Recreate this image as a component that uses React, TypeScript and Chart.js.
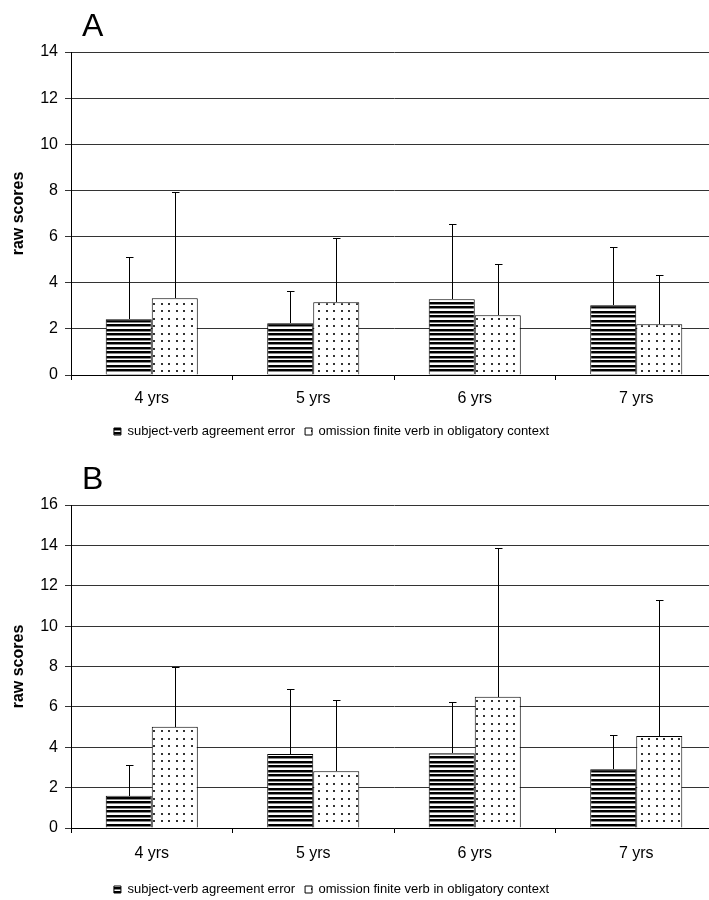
import React, { useEffect, useRef } from "react";
import { Chart, registerables } from "chart.js";

Chart.register(...registerables);

const categories = ["4 yrs", "5 yrs", "6 yrs", "7 yrs"];
const seriesNames = ["subject-verb agreement error", "omission finite verb in obligatory context"];

// Panel A
const aAgreement = [2.42, 2.24, 3.28, 3.02];
const aAgreementSD = [2.69, 1.42, 3.28, 2.53];
const aOmission = [3.33, 3.15, 2.59, 2.2];
const aOmissionSD = [4.6, 2.79, 2.21, 2.14];
const aYMax = 14;

// Panel B
const bAgreement = [1.6, 3.67, 3.7, 2.91];
const bAgreementSD = [1.51, 3.21, 2.55, 1.69];
const bOmission = [5.01, 2.81, 6.5, 4.56];
const bOmissionSD = [2.99, 3.52, 7.37, 6.74];
const bYMax = 16;

const FONT = "'Liberation Sans', Arial, sans-serif";

function makeStripePattern(): CanvasPattern | string {
  const c = document.createElement("canvas");
  c.width = 8;
  c.height = 9;
  const g = c.getContext("2d");
  if (!g) return "#000";
  g.fillStyle = "#fff";
  g.fillRect(0, 0, 8, 9);
  g.fillStyle = "#000";
  g.fillRect(0, 0, 8, 2);
  g.fillRect(0, 5, 8, 2);
  g.fillStyle = "#888";
  g.fillRect(0, 2, 8, 1);
  g.fillRect(0, 7, 8, 1);
  return g.createPattern(c, "repeat") || "#000";
}

function makeDotPattern(): CanvasPattern | string {
  const c = document.createElement("canvas");
  c.width = 15;
  c.height = 15;
  const g = c.getContext("2d");
  if (!g) return "#fff";
  g.fillStyle = "#fff";
  g.fillRect(0, 0, 15, 15);
  g.fillStyle = "#333";
  g.fillRect(3, 3, 2, 2);
  g.fillRect(11, 3, 2, 2);
  g.fillRect(3, 10, 2, 2);
  g.fillRect(11, 10, 2, 2);
  return g.createPattern(c, "repeat") || "#fff";
}

type PanelProps = {
  letter: string;
  agreement: number[];
  agreementSD: number[];
  omission: number[];
  omissionSD: number[];
  yMax: number;
  top: number;
  height: number;
  padTop: number;
  padBottom: number;
  xHeight: number;
  xPad: number;
};

const errorBarPlugin = {
  id: "errorBars",
  afterDatasetsDraw(chart: any) {
    const ctx = chart.ctx;
    const yScale = chart.scales.y;
    ctx.save();
    ctx.strokeStyle = "#000";
    ctx.lineWidth = 1;
    chart.data.datasets.forEach((ds: any, di: number) => {
      const meta = chart.getDatasetMeta(di);
      meta.data.forEach((bar: any, i: number) => {
        const v = ds.data[i];
        const sd = ds.errors[i];
        const x = Math.round(bar.x) + 0.5;
        const yTop = Math.round(yScale.getPixelForValue(v + sd)) + 0.5;
        const yBase = Math.round(bar.y);
        ctx.beginPath();
        ctx.moveTo(x, yBase);
        ctx.lineTo(x, yTop);
        ctx.moveTo(x - 3.5, yTop);
        ctx.lineTo(x + 4, yTop);
        ctx.stroke();
      });
    });
    ctx.restore();
  },
};

const letterPlugin = {
  id: "panelLetter",
  afterDraw(chart: any) {
    const opts = chart.options.plugins.panelLetter;
    if (!opts) return;
    const ctx = chart.ctx;
    ctx.save();
    ctx.fillStyle = "#000";
    ctx.font = `32px ${FONT}`;
    ctx.textBaseline = "alphabetic";
    ctx.textAlign = "left";
    ctx.fillText(opts.text, chart.chartArea.left + opts.dx, chart.chartArea.top + opts.dy);
    ctx.restore();
  },
};

const legendShiftPlugin = {
  id: "legendShift",
  afterLayout(chart: any) {
    const opts = chart.options.plugins.legendShift;
    if (!opts || !chart.legend) return;
    chart.legend.left = opts.left;
    chart.legend.right = opts.right;
  },
};

function Panel(p: PanelProps) {
  const ref = useRef<HTMLCanvasElement | null>(null);
  useEffect(() => {
    if (!ref.current) return;
    const stripe = makeStripePattern();
    const dots = makeDotPattern();
    const chart = new Chart(ref.current, {
      type: "bar",
      data: {
        labels: categories,
        datasets: [
          {
            label: seriesNames[0],
            data: p.agreement,
            errors: p.agreementSD,
            backgroundColor: stripe,
            borderColor: "#000",
            borderWidth: 1,
            categoryPercentage: 0.57,
            barPercentage: 1,
          } as any,
          {
            label: seriesNames[1],
            data: p.omission,
            errors: p.omissionSD,
            backgroundColor: dots,
            borderColor: "#000",
            borderWidth: 1,
            categoryPercentage: 0.57,
            barPercentage: 1,
          } as any,
        ],
      },
      options: {
        animation: false,
        responsive: false,
        maintainAspectRatio: false,
        layout: { padding: { top: p.padTop, bottom: p.padBottom, left: 0, right: 3 } },
        scales: {
          x: {
            grid: {
              display: true,
              drawOnChartArea: false,
              drawTicks: true,
              tickLength: 5,
              offset: true,
              color: "#000",
            },
            border: { display: true, color: "#000", width: 1 },
            ticks: { color: "#000", font: { family: FONT, size: 16 }, padding: p.xPad },
            afterFit: (s: any) => {
              s.height = p.xHeight;
            },
          },
          y: {
            min: 0,
            max: p.yMax,
            ticks: { stepSize: 2, color: "#000", font: { family: FONT, size: 16 }, padding: 7 },
            grid: { color: "#333", lineWidth: 1, tickLength: 6, drawTicks: true },
            border: { display: true, color: "#000", width: 1 },
            title: {
              display: true,
              text: "raw scores",
              color: "#000",
              font: { family: FONT, size: 16, weight: "bold" },
              padding: { top: 9, bottom: 0 },
            },
            afterFit: (s: any) => {
              s.width = 71;
            },
          },
        },
        plugins: {
          legend: {
            position: "bottom",
            labels: {
              color: "#000",
              font: { family: FONT, size: 13 },
              boxWidth: 7,
              boxHeight: 7,
              padding: 10,
            },
          },
          tooltip: { enabled: false },
          panelLetter: { text: p.letter, dx: 11, dy: -16 },
          legendShift: { left: 0, right: 663 },
        } as any,
      },
      plugins: [errorBarPlugin, letterPlugin, legendShiftPlugin],
    } as any);
    return () => chart.destroy();
  }, []);
  return (
    <canvas
      ref={ref}
      width={720}
      height={p.height}
      style={{ position: "absolute", left: 0, top: p.top, width: 720, height: p.height }}
    />
  );
}

export default function App() {
  return (
    <div
      style={{
        position: "fixed",
        left: 0,
        top: 0,
        width: 709,
        height: 900,
        overflow: "hidden",
        background: "#fff",
      }}
    >
      <Panel
        letter="A"
        agreement={aAgreement}
        agreementSD={aAgreementSD}
        omission={aOmission}
        omissionSD={aOmissionSD}
        yMax={aYMax}
        top={0}
        height={450}
        padTop={52}
        padBottom={2}
        xHeight={40}
        xPad={9}
      />
      <Panel
        letter="B"
        agreement={bAgreement}
        agreementSD={bAgreementSD}
        omission={bOmission}
        omissionSD={bOmissionSD}
        yMax={bYMax}
        top={450}
        height={470}
        padTop={55}
        padBottom={14}
        xHeight={45}
        xPad={11}
      />
    </div>
  );
}
